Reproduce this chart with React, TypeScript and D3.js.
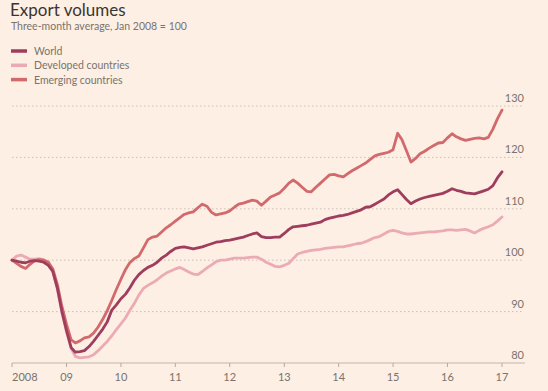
import React from 'react'
import * as d3 from 'd3'

// Export volumes, three-month average, Jan 2008 = 100 (monthly, Jan 2008 .. Jan 2017)
const world = [
  100, 99.8, 99.6, 99.5, 99.8, 99.9, 99.8, 99.6, 99.0, 97.8, 94.5, 90.0,
  86.3, 83.0, 82.1, 82.2, 82.4, 83.2, 84.2, 85.4, 86.6, 88.0, 90.3, 91.3,
  92.5, 93.4, 94.6, 96.1, 97.2, 98.0, 98.6, 99.0, 99.6, 100.4, 101.0, 101.7,
  102.3, 102.5, 102.6, 102.4, 102.2, 102.4, 102.6, 102.9, 103.2, 103.5, 103.6, 103.8,
  103.9, 104.1, 104.3, 104.5, 104.8, 105.1, 105.3, 104.6, 104.4, 104.4, 104.5, 104.5,
  105.2, 106.0, 106.5, 106.6, 106.7, 106.8, 107.0, 107.2, 107.4, 107.9, 108.2, 108.4,
  108.6, 108.7, 108.9, 109.2, 109.5, 109.8, 110.3, 110.4, 110.9, 111.4, 111.9, 112.7,
  113.3, 113.7, 112.8, 111.8, 111.0, 111.5, 111.9, 112.2, 112.4, 112.6, 112.8, 113.0,
  113.4, 113.9, 113.6, 113.4, 113.1, 113.0, 112.9, 113.2, 113.5, 113.8, 114.5, 116.0,
  117.2,
]
const developed = [
  100, 100.8, 101.0, 100.6, 100.2, 100.2, 100.3, 100.1, 99.6, 97.8, 94.2, 89.8,
  86.0, 82.8, 81.3, 81.0, 81.1, 81.2, 81.6, 82.4, 83.3, 84.2, 85.3, 86.5,
  87.6, 88.8, 90.2, 91.6, 93.2, 94.5, 95.1, 95.6, 96.2, 96.9, 97.5, 97.9,
  98.3, 98.6, 98.2, 97.7, 97.3, 97.2, 97.8, 98.5, 99.1, 99.7, 100.0, 100.0,
  100.2, 100.4, 100.4, 100.4, 100.5, 100.6, 100.6, 100.2, 99.6, 99.2, 98.8, 98.7,
  99.0, 99.4, 100.3, 101.2, 101.5, 101.7, 101.9, 102.0, 102.1, 102.3, 102.4, 102.5,
  102.6, 102.6, 102.8, 103.0, 103.2, 103.3, 103.6, 104.0, 104.4, 104.6, 105.1, 105.6,
  105.8, 105.6, 105.3, 105.1, 105.1, 105.2, 105.3, 105.4, 105.5, 105.5, 105.6, 105.7,
  105.9, 105.9, 105.8, 105.9, 106.0, 105.7, 105.3, 105.8, 106.2, 106.5, 106.9, 107.6,
  108.4,
]
const emerging = [
  100, 99.4, 98.8, 98.4, 99.2, 99.9, 100.1, 100.0, 99.6, 98.3, 95.2, 91.0,
  87.5, 84.5, 83.9, 84.3, 84.9, 85.1, 85.8, 87.0, 88.5, 90.2, 92.2, 94.3,
  96.3, 98.2, 99.5, 100.3, 100.8, 102.4, 104.0, 104.5, 104.7, 105.5, 106.3, 106.9,
  107.6, 108.3, 108.9, 109.2, 109.4, 110.2, 110.9, 110.5, 109.3, 108.8, 109.0, 109.2,
  109.6, 110.3, 110.9, 111.1, 111.4, 111.7, 111.5, 110.7, 111.5, 112.3, 112.7, 113.1,
  114.0, 115.0, 115.6, 115.0, 114.2, 113.4, 113.3, 114.2, 115.0, 115.8, 116.6, 116.7,
  116.4, 116.2, 116.8, 117.4, 117.9, 118.4, 118.9, 119.6, 120.3, 120.6, 120.8, 121.0,
  121.5, 124.7, 123.5, 121.3, 119.1, 119.8, 120.7, 121.2, 121.8, 122.3, 122.8, 122.9,
  123.8, 124.6, 124.0, 123.6, 123.3, 123.5, 123.7, 123.8, 123.6, 123.9, 125.5, 127.5,
  129.2,
]

const seriesNames = ['World', 'Developed countries', 'Emerging countries']
const seriesColors = ['#9e3d5d', '#ebabb3', '#d2696c']
const yTicks = [80, 90, 100, 110, 120, 130]
const xTickYears = [2008, 2009, 2010, 2011, 2012, 2013, 2014, 2015, 2016, 2017]
const xTickLabels = ['2008', '09', '10', '11', '12', '13', '14', '15', '16', '17']

const W = 548
const H = 391
const textGrey = '#7a736d'
const font = 'Lato, "Open Sans", sans-serif'

export default function App() {
  const start = new Date(2008, 0, 1)
  const dates = world.map((_, i) => d3.timeMonth.offset(start, i))

  const x = d3.scaleTime()
    .domain([new Date(2008, 0, 1), new Date(2017, 0, 1)])
    .range([12, 502])
  const y = d3.scaleLinear()
    .domain([80, 130])
    .range([363, 106])

  const line = d3.line<number>()
    .x((_, i) => x(dates[i]))
    .y(d => y(d))
    .curve(d3.curveLinear)

  const all = [world, developed, emerging]
  // draw order: developed at the back, then emerging, then world on top
  const drawOrder = [1, 2, 0]

  return (
    <div style={{ position: 'absolute', left: 0, top: 0 }}>
      <svg width={W} height={H} style={{ display: 'block', background: '#fdefe4' }}>
        <rect width={W} height={H} fill="#fdefe4" />
        <text x={10} y={16} fontFamily={font} fontSize={17} fill="#3a3531">Export volumes</text>
        <text x={11} y={30} fontFamily={font} fontSize={10.5} fill={textGrey}>
          Three-month average, Jan 2008 = 100
        </text>

        {seriesNames.map((name, i) => (
          <g key={name} transform={`translate(11,${51 + i * 14.3})`}>
            <line x1={0} x2={16} y1={0} y2={0} stroke={seriesColors[i]} strokeWidth={3.5} />
            <text x={23} y={4} fontFamily={font} fontSize={10.5} fill={textGrey}>{name}</text>
          </g>
        ))}

        {/* gridlines + y labels */}
        {yTicks.map(t => (
          <g key={t}>
            {t !== 80 && (
              <line x1={12} x2={524} y1={y(t)} y2={y(t)} stroke="#cbbfb5" strokeWidth={1} strokeDasharray="1.5,2.5" />
            )}
            <text x={524} y={y(t) - 4} textAnchor="end" fontFamily={font} fontSize={11} fill={textGrey}>{t}</text>
          </g>
        ))}

        {/* x axis */}
        <line x1={12} x2={525} y1={363} y2={363} stroke="#c2b7ae" strokeWidth={1.2} />
        {xTickYears.map((yr, i) => {
          const px = x(new Date(yr, 0, 1))
          return (
            <g key={yr}>
              <line x1={px} x2={px} y1={363} y2={367} stroke="#b5aaa1" strokeWidth={1} />
              <text x={px} y={381} textAnchor={i === 0 ? 'start' : 'middle'} fontFamily={font} fontSize={11} fill={textGrey}>
                {xTickLabels[i]}
              </text>
            </g>
          )
        })}

        {drawOrder.map(k => (
          <path key={k} d={line(all[k]) || ''} fill="none" stroke={seriesColors[k]}
            strokeWidth={2.8} strokeLinejoin="round" strokeLinecap="round" />
        ))}
      </svg>
    </div>
  )
}
